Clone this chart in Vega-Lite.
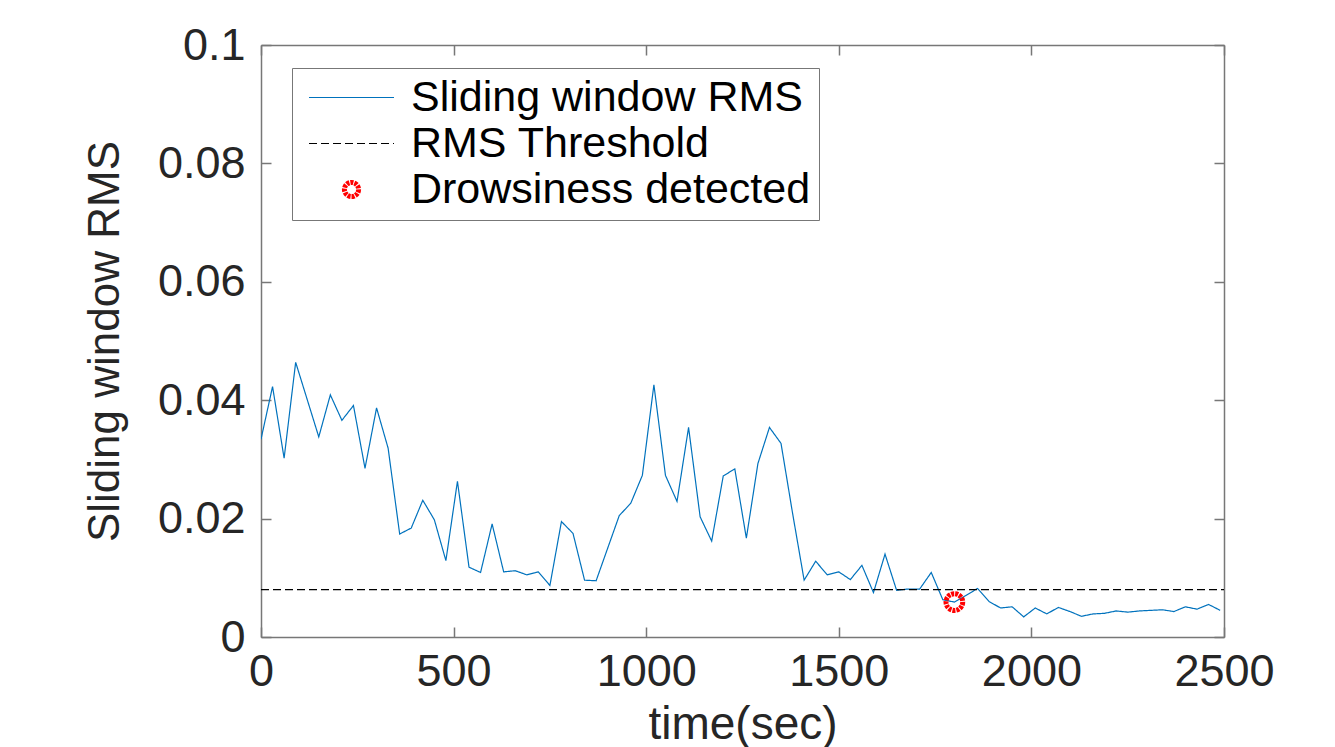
{
  "$schema": "https://vega.github.io/schema/vega-lite/v6.json",
  "width": 963,
  "height": 592,
  "autosize": {"type": "none"},
  "padding": {"left": 261, "top": 45, "right": 111, "bottom": 110},
  "background": "white",
  "config": {
    "font": "Liberation Sans",
    "view": {"stroke": null},
    "axis": {
      "grid": false,
      "domainColor": "#777777",
      "domainWidth": 1.5,
      "tickColor": "#777777",
      "tickWidth": 1.5,
      "tickSize": -10,
      "labelColor": "#262626",
      "titleColor": "#262626",
      "labelFontSize": 45,
      "titleFontWeight": "normal"
    }
  },
  "data": {
    "values": [
      {"t": 0, "v": 0.0334, "s": "Sliding window RMS"},
      {"t": 30, "v": 0.0423, "s": "Sliding window RMS"},
      {"t": 60, "v": 0.0302, "s": "Sliding window RMS"},
      {"t": 90, "v": 0.0464, "s": "Sliding window RMS"},
      {"t": 120, "v": 0.0401, "s": "Sliding window RMS"},
      {"t": 150, "v": 0.0338, "s": "Sliding window RMS"},
      {"t": 180, "v": 0.0409, "s": "Sliding window RMS"},
      {"t": 210, "v": 0.0366, "s": "Sliding window RMS"},
      {"t": 240, "v": 0.0391, "s": "Sliding window RMS"},
      {"t": 270, "v": 0.0285, "s": "Sliding window RMS"},
      {"t": 300, "v": 0.0387, "s": "Sliding window RMS"},
      {"t": 330, "v": 0.0319, "s": "Sliding window RMS"},
      {"t": 360, "v": 0.0174, "s": "Sliding window RMS"},
      {"t": 390, "v": 0.0184, "s": "Sliding window RMS"},
      {"t": 420, "v": 0.0231, "s": "Sliding window RMS"},
      {"t": 450, "v": 0.0198, "s": "Sliding window RMS"},
      {"t": 480, "v": 0.0129, "s": "Sliding window RMS"},
      {"t": 510, "v": 0.0263, "s": "Sliding window RMS"},
      {"t": 540, "v": 0.0118, "s": "Sliding window RMS"},
      {"t": 570, "v": 0.0109, "s": "Sliding window RMS"},
      {"t": 600, "v": 0.0191, "s": "Sliding window RMS"},
      {"t": 630, "v": 0.0110, "s": "Sliding window RMS"},
      {"t": 660, "v": 0.0112, "s": "Sliding window RMS"},
      {"t": 690, "v": 0.0105, "s": "Sliding window RMS"},
      {"t": 720, "v": 0.0110, "s": "Sliding window RMS"},
      {"t": 750, "v": 0.0087, "s": "Sliding window RMS"},
      {"t": 780, "v": 0.0195, "s": "Sliding window RMS"},
      {"t": 810, "v": 0.0175, "s": "Sliding window RMS"},
      {"t": 840, "v": 0.0096, "s": "Sliding window RMS"},
      {"t": 870, "v": 0.0095, "s": "Sliding window RMS"},
      {"t": 900, "v": 0.0150, "s": "Sliding window RMS"},
      {"t": 930, "v": 0.0205, "s": "Sliding window RMS"},
      {"t": 960, "v": 0.0226, "s": "Sliding window RMS"},
      {"t": 990, "v": 0.0273, "s": "Sliding window RMS"},
      {"t": 1020, "v": 0.0426, "s": "Sliding window RMS"},
      {"t": 1050, "v": 0.0273, "s": "Sliding window RMS"},
      {"t": 1080, "v": 0.0229, "s": "Sliding window RMS"},
      {"t": 1110, "v": 0.0354, "s": "Sliding window RMS"},
      {"t": 1140, "v": 0.0203, "s": "Sliding window RMS"},
      {"t": 1170, "v": 0.0162, "s": "Sliding window RMS"},
      {"t": 1200, "v": 0.0272, "s": "Sliding window RMS"},
      {"t": 1230, "v": 0.0284, "s": "Sliding window RMS"},
      {"t": 1260, "v": 0.0167, "s": "Sliding window RMS"},
      {"t": 1290, "v": 0.0293, "s": "Sliding window RMS"},
      {"t": 1320, "v": 0.0354, "s": "Sliding window RMS"},
      {"t": 1350, "v": 0.0327, "s": "Sliding window RMS"},
      {"t": 1380, "v": 0.0209, "s": "Sliding window RMS"},
      {"t": 1410, "v": 0.0096, "s": "Sliding window RMS"},
      {"t": 1440, "v": 0.0128, "s": "Sliding window RMS"},
      {"t": 1470, "v": 0.0105, "s": "Sliding window RMS"},
      {"t": 1500, "v": 0.0110, "s": "Sliding window RMS"},
      {"t": 1530, "v": 0.0097, "s": "Sliding window RMS"},
      {"t": 1560, "v": 0.0121, "s": "Sliding window RMS"},
      {"t": 1590, "v": 0.0075, "s": "Sliding window RMS"},
      {"t": 1620, "v": 0.0140, "s": "Sliding window RMS"},
      {"t": 1650, "v": 0.0079, "s": "Sliding window RMS"},
      {"t": 1680, "v": 0.0081, "s": "Sliding window RMS"},
      {"t": 1710, "v": 0.0081, "s": "Sliding window RMS"},
      {"t": 1740, "v": 0.0109, "s": "Sliding window RMS"},
      {"t": 1770, "v": 0.0063, "s": "Sliding window RMS"},
      {"t": 1800, "v": 0.0059, "s": "Sliding window RMS"},
      {"t": 1830, "v": 0.0070, "s": "Sliding window RMS"},
      {"t": 1860, "v": 0.0082, "s": "Sliding window RMS"},
      {"t": 1890, "v": 0.0060, "s": "Sliding window RMS"},
      {"t": 1920, "v": 0.0049, "s": "Sliding window RMS"},
      {"t": 1950, "v": 0.0051, "s": "Sliding window RMS"},
      {"t": 1980, "v": 0.0034, "s": "Sliding window RMS"},
      {"t": 2010, "v": 0.0049, "s": "Sliding window RMS"},
      {"t": 2040, "v": 0.0039, "s": "Sliding window RMS"},
      {"t": 2070, "v": 0.0050, "s": "Sliding window RMS"},
      {"t": 2100, "v": 0.0043, "s": "Sliding window RMS"},
      {"t": 2130, "v": 0.0035, "s": "Sliding window RMS"},
      {"t": 2160, "v": 0.0039, "s": "Sliding window RMS"},
      {"t": 2190, "v": 0.0040, "s": "Sliding window RMS"},
      {"t": 2220, "v": 0.0044, "s": "Sliding window RMS"},
      {"t": 2250, "v": 0.0042, "s": "Sliding window RMS"},
      {"t": 2280, "v": 0.0044, "s": "Sliding window RMS"},
      {"t": 2310, "v": 0.0045, "s": "Sliding window RMS"},
      {"t": 2340, "v": 0.0046, "s": "Sliding window RMS"},
      {"t": 2370, "v": 0.0043, "s": "Sliding window RMS"},
      {"t": 2400, "v": 0.0051, "s": "Sliding window RMS"},
      {"t": 2430, "v": 0.0047, "s": "Sliding window RMS"},
      {"t": 2460, "v": 0.0055, "s": "Sliding window RMS"},
      {"t": 2490, "v": 0.0045, "s": "Sliding window RMS"},
      {"t": 0, "v": 0.008, "s": "RMS Threshold"},
      {"t": 2500, "v": 0.008, "s": "RMS Threshold"},
      {"t": 1800, "v": 0.0059, "s": "Drowsiness detected"}
    ]
  },
  "resolve": {"axis": {"x": "independent", "y": "independent"}},
  "layer": [
    {
      "transform": [{"filter": "datum.s !== 'Drowsiness detected'"}],
      "mark": {"type": "line", "strokeWidth": 1.2, "clip": true},
      "encoding": {
        "x": {
          "field": "t", "type": "quantitative",
          "scale": {"domain": [0, 2500], "nice": false, "zero": false},
          "axis": {"orient": "bottom", "values": [0, 500, 1000, 1500, 2000, 2500], "format": "d",
                   "labelPadding": 22, "labelFlush": false, "title": "time(sec)", "titleFontSize": 46, "titlePadding": 8}
        },
        "y": {
          "field": "v", "type": "quantitative",
          "scale": {"domain": [0, 0.1], "nice": false, "zero": false},
          "axis": {"orient": "left", "values": [0, 0.02, 0.04, 0.06, 0.08, 0.1], "format": ".2~f",
                   "labelPadding": 26, "labelFlush": false, "title": "Sliding window RMS", "titleFontSize": 44, "titlePadding": 30}
        },
        "detail": {"field": "s"},
        "strokeDash": {
          "field": "s", "type": "nominal", "legend": null,
          "scale": {"domain": ["Sliding window RMS", "RMS Threshold"], "range": [[1, 0], [8, 4]]}
        },
        "color": {
          "field": "s", "type": "nominal",
          "scale": {"domain": ["Sliding window RMS", "RMS Threshold", "Drowsiness detected"], "range": ["#0072BD", "#000000", "#FF0000"]},
          "legend": {
            "orient": "none", "legendX": 31, "legendY": 23, "title": null,
            "labelFontSize": 43, "labelColor": "#000000", "labelFont": "Liberation Sans", "labelLimit": 0,
            "symbolType": "M-4.25,0H4.25", "symbolSize": 400, "symbolStrokeWidth": 1,
            "symbolOffset": 30, "labelOffset": 38, "padding": 8, "rowPadding": 2,
            "strokeColor": "#777777", "fillColor": "white",
            "encode": {
              "symbols": {
                "update": {
                  "shape": {"signal": "datum.value === 'Drowsiness detected' ? 'circle' : 'M-4.25,0H4.25'"},
                  "size": {"signal": "datum.value === 'Drowsiness detected' ? 200 : 400"},
                  "stroke": {"signal": "datum.value === 'Drowsiness detected' ? '#FF0000' : (datum.value === 'RMS Threshold' ? '#000000' : '#0072BD')"},
                  "strokeWidth": {"signal": "datum.value === 'Drowsiness detected' ? 5 : 1"},
                  "strokeDash": {"signal": "datum.value === 'Drowsiness detected' ? [3, 1] : (datum.value === 'RMS Threshold' ? [8, 4] : [1, 0])"},
                  "fill": {"value": "white"},
                  "fillOpacity": {"value": 1},
                  "opacity": {"value": 1}
                }
              }
            }
          }
        }
      }
    },
    {
      "transform": [{"filter": "datum.s === 'Drowsiness detected'"}],
      "mark": {"type": "point", "filled": false, "strokeWidth": 5, "strokeDash": [3, 1], "size": 280, "opacity": 1},
      "encoding": {
        "x": {"field": "t", "type": "quantitative",
              "axis": {"orient": "top", "values": [0, 500, 1000, 1500, 2000, 2500], "labels": false, "title": null}},
        "y": {"field": "v", "type": "quantitative",
              "axis": {"orient": "right", "values": [0, 0.02, 0.04, 0.06, 0.08, 0.1], "labels": false, "title": null}},
        "color": {"field": "s", "type": "nominal"}
      }
    }
  ]
}
